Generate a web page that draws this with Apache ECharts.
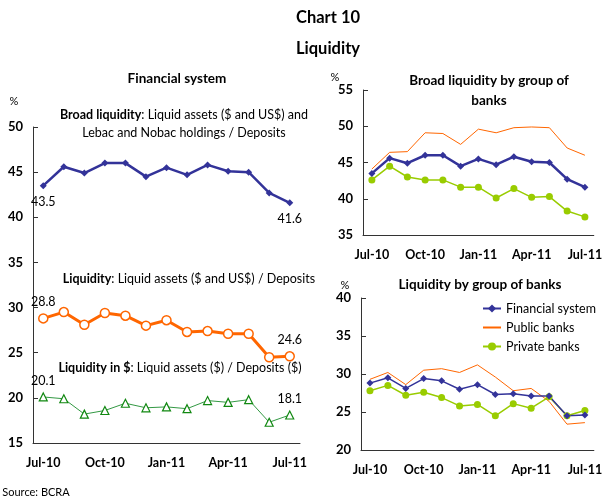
<!DOCTYPE html>
<html>
<head>
<meta charset="utf-8">
<script src="https://cdn.jsdelivr.net/npm/echarts@6/dist/echarts.min.js"></script>
<style>
  html, body { margin: 0; padding: 0; background: #fff; }
  #chart { width: 605px; height: 500px; }
</style>
</head>
<body>
<div id="chart"></div>
<script>
    // monthly data, Jul-10 .. Jul-11
    var months = ['Jul-10', 'Aug-10', 'Sep-10', 'Oct-10', 'Nov-10', 'Dec-10', 'Jan-11',
                  'Feb-11', 'Mar-11', 'Apr-11', 'May-11', 'Jun-11', 'Jul-11'];

    // left panel: financial system
    var broadSystem = [43.5, 45.6, 44.9, 46.0, 46.0, 44.5, 45.5, 44.7, 45.8, 45.1, 45.0, 42.7, 41.6];
    var liqSystem = [28.8, 29.5, 28.1, 29.4, 29.1, 28.0, 28.6, 27.3, 27.4, 27.1, 27.1, 24.5, 24.6];
    var liqPesos = [20.1, 19.9, 18.2, 18.6, 19.4, 18.9, 19.0, 18.8, 19.7, 19.5, 19.8, 17.3, 18.1];

    // top right: broad liquidity by group
    var broadPublic = [44.1, 46.4, 46.5, 49.1, 49.0, 47.5, 49.6, 49.1, 49.8, 49.9, 49.8, 47.0, 46.0];
    var broadPrivate = [42.6, 44.5, 43.0, 42.6, 42.6, 41.6, 41.6, 40.1, 41.4, 40.2, 40.3, 38.3, 37.5];

    // bottom right: liquidity by group
    var liqPublic = [29.3, 30.2, 28.6, 30.5, 30.7, 30.2, 31.2, 29.6, 27.8, 28.1, 26.4, 23.4, 23.6];
    var liqPrivate = [27.8, 28.5, 27.2, 27.6, 26.9, 25.8, 26.0, 24.5, 26.1, 25.5, 27.0, 24.5, 25.2];

    var FONT = 'Lato, "DejaVu Sans", sans-serif';
    var BLUE = '#333399', ORANGE = '#ff6600', GREEN = '#339944', LIME = '#99cc00';

    // first and last values get a data label
    function endLabels(arr) {
        return arr.map(function (v, i) {
            if (i === 0 || i === arr.length - 1) {
                return { value: v, label: { show: true } };
            }
            return v;
        });
    }

    function xAxisFor(gi) {
        return {
            type: 'category', gridIndex: gi, data: months, boundaryGap: true,
            axisLine: { lineStyle: { color: '#333', width: 1 } },
            axisTick: { inside: true, interval: 1, length: 5, lineStyle: { color: '#333' } },
            axisLabel: { interval: 2, margin: 13, color: '#000', fontFamily: FONT,
                         fontWeight: 'bold', fontSize: 12.5 },
            splitLine: { show: false }
        };
    }
    function yAxisFor(gi, min, max) {
        return {
            type: 'value', gridIndex: gi, min: min, max: max, interval: 5,
            axisLine: { show: true, lineStyle: { color: '#333', width: 1 } },
            axisTick: { show: true, inside: true, length: 5, lineStyle: { color: '#333' } },
            axisLabel: { margin: 10, color: '#000', fontFamily: FONT,
                         fontWeight: 'bold', fontSize: 13 },
            splitLine: { show: false }
        };
    }
    function txt(x, y, text, size, bold, extra) {
        var s = {
            text: text, x: x, y: y, fill: '#000',
            font: (bold ? 'bold ' : '') + size + 'px ' + FONT,
            align: 'center', verticalAlign: 'middle',
            textAlign: 'center', textVerticalAlign: 'middle'
        };
        if (extra) { for (var k in extra) s[k] = extra[k]; }
        return { type: 'text', style: s, silent: true };
    }
    var boldRich = { b: { fontFamily: FONT, fontWeight: 'bold', fontSize: 12.5, fill: '#000', color: '#000' } };

    var chart = echarts.init(document.getElementById('chart'));
    var option = {
        backgroundColor: '#fff',
        animation: false,
        textStyle: { fontFamily: FONT },
        grid: [
            { left: 33, right: 305, top: 127, bottom: 57 },
            { left: 363, right: 7, top: 90, bottom: 265 },
            { left: 361, right: 7, top: 298, bottom: 50 }
        ],
        xAxis: [xAxisFor(0), xAxisFor(1), xAxisFor(2)],
        yAxis: [yAxisFor(0, 15, 50), yAxisFor(1, 35, 55), yAxisFor(2, 20, 40)],
        legend: {
            orient: 'vertical', left: 477, top: 297, itemGap: 6,
            itemWidth: 18, itemHeight: 10,
            textStyle: { fontFamily: FONT, fontSize: 12.5, color: '#000' },
            data: [
                'Financial system',
                { name: 'Public banks', itemStyle: { opacity: 0 } },
                'Private banks'
            ]
        },
        graphic: [
            txt(328, 18, 'Chart 10', 16.5, true),
            txt(328, 49, 'Liquidity', 16.5, true),
            txt(177, 79, 'Financial system', 13.5, true),
            txt(14, 101, '%', 11, false),
            txt(184, 115, '{b|Broad liquidity}: Liquid assets ($ and US$) and', 12.5, false, { rich: boldRich }),
            txt(184, 133, 'Lebac and Nobac holdings / Deposits', 12.5, false),
            txt(189, 279, '{b|Liquidity}: Liquid assets ($ and US$) / Deposits', 12.5, false, { rich: boldRich }),
            txt(180, 368, '{b|Liquidity in $}: Liquid assets ($) / Deposits ($)', 12.5, false, { rich: boldRich }),
            txt(36, 492, 'Source: BCRA', 11, false),
            txt(489, 81, 'Broad liquidity by group of', 13.5, true),
            txt(489, 101, 'banks', 13.5, true),
            txt(335, 77, '%', 11, false),
            txt(480, 285, 'Liquidity by group of banks', 13.5, true),
            txt(345, 285, '%', 11, false)
        ],
        series: [
            {
                name: 'Broad liquidity', type: 'line', xAxisIndex: 0, yAxisIndex: 0,
                data: endLabels(broadSystem), symbol: 'diamond', symbolSize: 7,
                lineStyle: { color: BLUE, width: 2.5 }, itemStyle: { color: BLUE },
                label: { position: 'bottom', distance: 6, color: '#000', fontSize: 12.5, fontFamily: FONT },
                z: 3
            },
            {
                name: 'Liquidity', type: 'line', xAxisIndex: 0, yAxisIndex: 0,
                data: endLabels(liqSystem), symbol: 'circle', symbolSize: 9,
                lineStyle: { color: ORANGE, width: 3 },
                itemStyle: { color: '#fff', borderColor: ORANGE, borderWidth: 1.5 },
                label: { position: 'top', distance: 5, color: '#000', fontSize: 12.5, fontFamily: FONT }
            },
            {
                name: 'Liquidity in $', type: 'line', xAxisIndex: 0, yAxisIndex: 0,
                data: endLabels(liqPesos), symbol: 'triangle', symbolSize: 8,
                lineStyle: { color: GREEN, width: 1 },
                itemStyle: { color: '#fff', borderColor: '#118811', borderWidth: 1.2 },
                label: { position: 'top', distance: 5, color: '#000', fontSize: 12.5, fontFamily: FONT }
            },
            {
                name: 'Public banks broad', type: 'line', xAxisIndex: 1, yAxisIndex: 1,
                data: broadPublic, symbol: 'none',
                lineStyle: { color: ORANGE, width: 1 }
            },
            {
                name: 'Private banks broad', type: 'line', xAxisIndex: 1, yAxisIndex: 1,
                data: broadPrivate, symbol: 'circle', symbolSize: 7,
                lineStyle: { color: LIME, width: 1.5 }, itemStyle: { color: LIME }
            },
            {
                name: 'System broad', type: 'line', xAxisIndex: 1, yAxisIndex: 1,
                data: broadSystem, symbol: 'diamond', symbolSize: 7,
                lineStyle: { color: BLUE, width: 2.5 }, itemStyle: { color: BLUE }
            },
            {
                name: 'Public banks', type: 'line', xAxisIndex: 2, yAxisIndex: 2,
                data: liqPublic, symbol: 'none',
                lineStyle: { color: ORANGE, width: 1 }, itemStyle: { color: ORANGE }
            },
            {
                name: 'Private banks', type: 'line', xAxisIndex: 2, yAxisIndex: 2,
                data: liqPrivate, symbol: 'circle', symbolSize: 7,
                lineStyle: { color: LIME, width: 1.5 }, itemStyle: { color: LIME }
            },
            {
                name: 'Financial system', type: 'line', xAxisIndex: 2, yAxisIndex: 2,
                data: liqSystem, symbol: 'diamond', symbolSize: 7,
                lineStyle: { color: BLUE, width: 1.5 }, itemStyle: { color: BLUE }
            }
        ]
    };
    chart.setOption(option);
</script>
</body>
</html>
